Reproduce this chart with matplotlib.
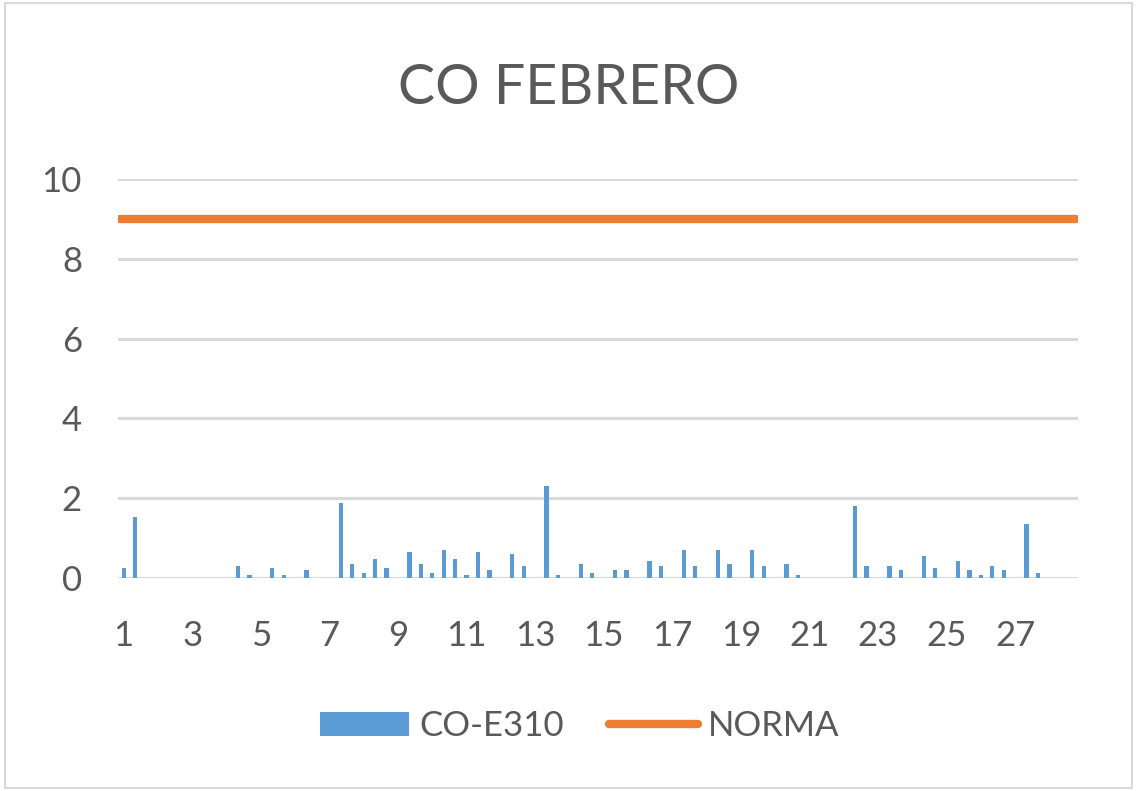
import numpy as np
import matplotlib.pyplot as plt

plt.rcParams['font.family'] = ['Lato', 'DejaVu Sans']

# 3 readings per day, 28 days
days = list(range(1, 29))
co_e310 = [
    0.24, 1.52, 0,     # 1
    0, 0, 0,           # 2
    0, 0, 0,           # 3
    0, 0.30, 0.07,     # 4
    0, 0.24, 0.07,     # 5
    0, 0.19, 0,        # 6
    0, 1.88, 0.36,     # 7
    0.13, 0.48, 0.24,  # 8
    0, 0.65, 0.36,     # 9
    0.13, 0.71, 0.48,  # 10
    0.07, 0.65, 0.19,  # 11
    0, 0.59, 0.30,     # 12
    0, 2.30, 0.07,     # 13
    0, 0.36, 0.13,     # 14
    0, 0.19, 0.19,     # 15
    0, 0.42, 0.30,     # 16
    0, 0.71, 0.30,     # 17
    0, 0.71, 0.36,     # 18
    0, 0.71, 0.30,     # 19
    0, 0.36, 0.07,     # 20
    0, 0, 0,           # 21
    0, 1.81, 0.30,     # 22
    0, 0.30, 0.19,     # 23
    0, 0.54, 0.24,     # 24
    0, 0.42, 0.19,     # 25
    0.07, 0.30, 0.19,  # 26
    0, 1.35, 0.13,     # 27
    0, 0, 0,           # 28
]
norma = [9] * len(co_e310)
labels = [str(d) for d in days for _ in range(3)]

blue = "#5B9BD5"
orange = "#ED7D31"
grey = "#595959"

fig = plt.figure(figsize=(11.37, 7.91), dpi=100)
ax = fig.add_axes([118/1137, 1-578/791, 960/1137, 399/791])

x = np.arange(len(co_e310))
bars = ax.bar(x, co_e310, width=0.38, color=blue, label="CO-E310", zorder=3)
line, = ax.plot(x[[0, -1]] + np.array([-0.3, 0.3]), [norma[0], norma[-1]], color=orange,
                lw=6, solid_capstyle="round", label="NORMA", zorder=4)

ax.set_xlim(-0.5, len(co_e310) - 0.5)
ax.set_ylim(0, 10)
ax.set_yticks([0, 2, 4, 6, 8, 10])
ax.set_xticks(x[::6])
ax.set_xticklabels(labels[::6])
ax.grid(axis="y", color="#D9D9D9", lw=2.2, zorder=0)
ax.set_axisbelow(True)
for s in ax.spines.values():
    s.set_visible(False)
ax.tick_params(length=0, labelsize=25, colors=grey)
ax.tick_params(axis="y", pad=26)
ax.tick_params(axis="x", pad=30)

fig.text(0.5, 1-88/791, "CO FEBRERO", ha="center", va="center", fontsize=40, color=grey)

fig.legend([bars, line], ["CO-E310", "NORMA"], loc="center",
           bbox_to_anchor=(0.51, 1-726/791), ncol=2, frameon=False,
           fontsize=25, labelcolor=grey, handlelength=2.55, handleheight=0.7,
           handletextpad=0.3, columnspacing=1.3)

fig.patches.append(plt.Rectangle((5/1137, 3/791), 1127/1137, 785/791, transform=fig.transFigure,
                                 fill=False, edgecolor="#D9D9D9", lw=1.5))

fig.savefig("out.png", dpi=100)
